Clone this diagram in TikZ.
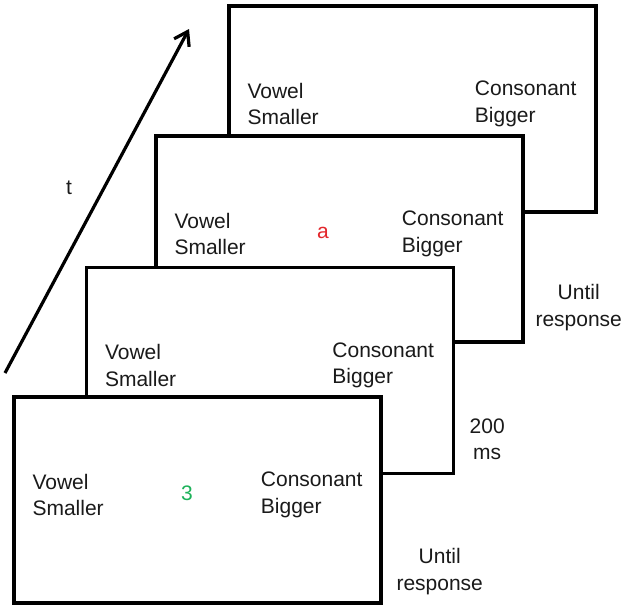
\documentclass[tikz,border=0pt]{standalone}
\usepackage{fontspec}
\setmainfont{Liberation Sans}
\usetikzlibrary{arrows.meta,positioning,calc}
\definecolor{ink}{HTML}{000000}
\definecolor{txt}{HTML}{1A1A1A}
\definecolor{stimred}{HTML}{E3262B}
\definecolor{stimgreen}{HTML}{1DB25A}
\tikzset{
  screen/.style={draw=ink,line width=3.4pt,fill=white,minimum width=367pt,minimum height=206pt,inner sep=0pt},
  plain/.style={align=left,font=\fontsize{21}{26.5}\selectfont,text=txt,inner sep=0pt},
  side/.style={plain,align=center},
  stim/.style={plain,align=center},
  ar/.style={-{Straight Barb[length=4.5mm,width=6mm]},draw=ink,line width=3.2pt},
}

\begin{document}
\begin{tikzpicture}[x=1pt,y=-1pt]
  \useasboundingbox (0,0) rectangle (621,606);
  % time axis
  \coordinate (t0) at (5,373);
  \coordinate (t1) at (189,29);
  \draw[ar] (t0) -- (t1);
  \node[plain] (tlab) at (69,188) {t};
  % screens, back to front
  \node[screen] (scr4) at (412.5,109) {};
  \node[plain,anchor=west] (v4) at ([xshift=20pt,yshift=5pt]scr4.west) {Vowel\\Smaller};
  \node[plain,anchor=east] (c4) at ([xshift=-21pt,yshift=5pt]scr4.east) {Consonant\\Bigger};
  \node[screen] (scr3) at (339.5,239) {};
  \node[plain,anchor=west] (v3) at ([xshift=20pt,yshift=5pt]scr3.west) {Vowel\\Smaller};
  \node[plain,anchor=east] (c3) at ([xshift=-21pt,yshift=5pt]scr3.east) {Consonant\\Bigger};
  \node[stim,text=stimred] (s3) at ([xshift=-16.5pt,yshift=6pt]scr3.center) {a};
  \node[screen] (scr2) at (270,370.5) {};
  \node[plain,anchor=west] (v2) at ([xshift=20pt,yshift=5pt]scr2.west) {Vowel\\Smaller};
  \node[plain,anchor=east] (c2) at ([xshift=-21pt,yshift=5pt]scr2.east) {Consonant\\Bigger};
  \node[screen] (scr1) at (197.5,500) {};
  \node[plain,anchor=west] (v1) at ([xshift=20pt,yshift=5pt]scr1.west) {Vowel\\Smaller};
  \node[plain,anchor=east] (c1) at ([xshift=-20pt,yshift=5pt]scr1.east) {Consonant\\Bigger};
  \node[stim,text=stimgreen] (s1) at ([xshift=-10.5pt,yshift=7pt]scr1.center) {3};
  % durations
  \node[side] (d3) at ([xshift=54pt,yshift=36pt]scr3.south east) {Until\\response};
  \node[side] (d2) at ([xshift=32pt,yshift=36pt]scr2.south east) {200\\ms};
  \node[side] (d1) at ([xshift=57pt,yshift=33pt]scr1.south east) {Until\\response};
\end{tikzpicture}
\end{document}
